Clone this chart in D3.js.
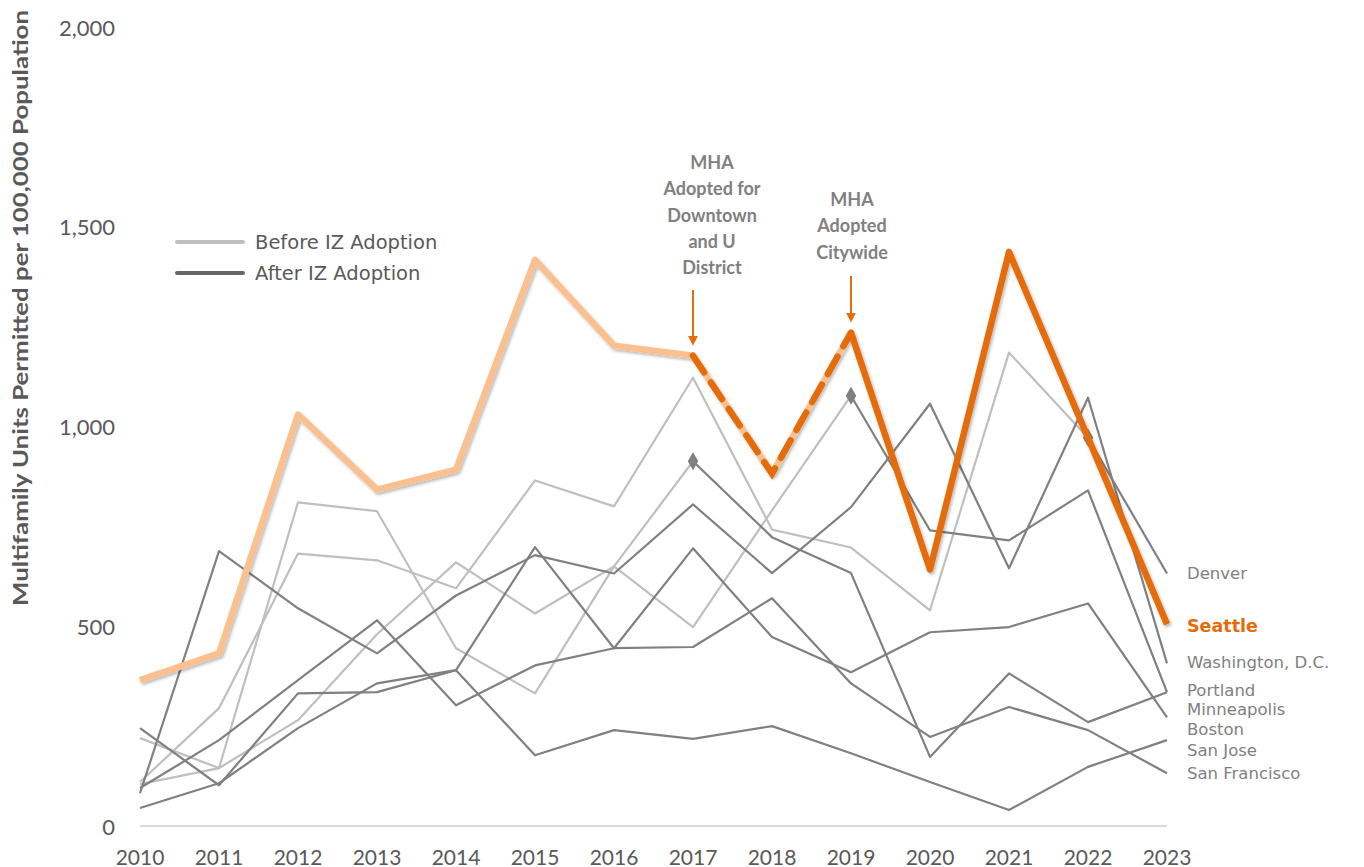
<!DOCTYPE html>
<html>
<head>
<meta charset="utf-8">
<script src="https://cdn.jsdelivr.net/npm/d3@7"></script>
<style>
  body { margin: 0; background: #fff; }
  svg { display: block; font-family: Lato, "Open Sans", sans-serif; }
</style>
</head>
<body>
<svg id="chart"></svg>
<script>
const width = 1364;
const height = 867;

const years = d3.range(2010, 2024);
const yTicks = [0, 500, 1000, 1500, 2000];

// grey cities, value per year 2010..2023
const denver      = [110, 295, 682, 665, 595, 865, 800, 1122, 742, 697, 540, 1185, 972, 632];
const portland    = [105, 145, 265, 480, 660, 532, 650, 913, 723, 633, 173, 382, 260, 335];
const minneapolis = [220, 145, 810, 788, 445, 332, 650, 498, 790, 1077, 740, 715, 840, 335];
const washington  = [82, 688, 545, 432, 577, 678, 632, 805, 633, 798, 1057, 645, 1072, 407];
const boston      = [245, 102, 332, 335, 390, 698, 445, 695, 473, 385, 485, 498, 557, 272];
const sanFrancisco= [95, 215, 365, 515, 302, 402, 445, 448, 570, 357, 223, 298, 240, 132];
const sanJose     = [45, 107, 245, 357, 390, 177, 240, 218, 250, 182, 110, 40, 148, 215];
const seattle     = [365, 432, 1030, 842, 892, 1417, 1202, 1177, 882, 1235, 642, 1437, 972, 505];

const cities = [
  {name: 'Denver', values: denver, adopted: 2022, labelY: 573},
  {name: 'Washington, D.C.', values: washington, adopted: 2010, labelY: 662},
  {name: 'Portland', values: portland, adopted: 2017, labelY: 690},
  {name: 'Minneapolis', values: minneapolis, adopted: 2019, labelY: 709},
  {name: 'Boston', values: boston, adopted: 2010, labelY: 729},
  {name: 'San Jose', values: sanJose, adopted: 2010, labelY: 750},
  {name: 'San Francisco', values: sanFrancisco, adopted: 2010, labelY: 773}
];
const seattleDowntown = 2017;
const seattleCitywide = 2019;

const lightGrey = '#BFBFBF';
const darkGrey = '#808080';
const lightOrange = '#FAC08F';
const darkOrange = '#E46C0A';
const textGrey = '#595959';
const wideFont = '"DejaVu Sans", Lato, sans-serif';

const svg = d3.select('#chart').attr('width', width).attr('height', height);

const defs = svg.append('defs');
defs.append('filter').attr('id', 'shadow')
  .attr('x', '-10%').attr('y', '-10%').attr('width', '120%').attr('height', '120%')
  .append('feDropShadow')
  .attr('dx', 1.5).attr('dy', 2).attr('stdDeviation', 1.6)
  .attr('flood-color', '#000').attr('flood-opacity', 0.28);
defs.append('marker').attr('id', 'arrow')
  .attr('viewBox', '0 0 10 10').attr('refX', 8).attr('refY', 5)
  .attr('markerWidth', 5).attr('markerHeight', 5).attr('orient', 'auto')
  .append('path').attr('d', 'M0,0 L10,5 L0,10 Z').attr('fill', darkOrange);

const x = d3.scaleLinear().domain([2010, 2023]).range([140, 1167]);
const y = d3.scaleLinear().domain([0, 2000]).range([826, 27]);

const line = d3.line().x(d => x(d.year)).y(d => y(d.value));
const pts = vals => vals.map((v, i) => ({year: years[i], value: v}));

// y tick labels
svg.append('g').selectAll('text').data(yTicks).enter().append('text')
  .attr('x', 115).attr('y', d => y(d))
  .attr('text-anchor', 'end').attr('dominant-baseline', 'central')
  .attr('font-size', 22).attr('fill', textGrey)
  .text(d => d3.format(',')(d));

// x axis line + labels
svg.append('line')
  .attr('x1', x(2010)).attr('x2', x(2023)).attr('y1', y(0)).attr('y2', y(0))
  .attr('stroke', '#D9D9D9').attr('stroke-width', 2);
svg.append('g').selectAll('text').data(years).enter().append('text')
  .attr('x', d => x(d)).attr('y', 856)
  .attr('text-anchor', 'middle').attr('dominant-baseline', 'central')
  .attr('font-size', 21).attr('fill', textGrey)
  .text(d => d);

// y axis title
svg.append('text')
  .attr('transform', 'translate(20,308) rotate(-90)')
  .attr('text-anchor', 'middle').attr('dominant-baseline', 'central')
  .attr('font-size', 20).attr('font-weight', 'bold').attr('fill', textGrey)
  .attr('textLength', 596).attr('lengthAdjust', 'spacingAndGlyphs')
  .text('Multifamily Units Permitted per 100,000 Population');

// grey cities: before (light) then after (dark)
const greyG = svg.append('g');
cities.forEach(c => {
  const before = pts(c.values).filter(d => d.year <= c.adopted);
  if (before.length > 1) {
    greyG.append('path').datum(before).attr('d', line)
      .attr('fill', 'none').attr('stroke', lightGrey).attr('stroke-width', 2.2)
      .attr('stroke-linejoin', 'round');
  }
});
cities.forEach(c => {
  const p = pts(c.values);
  const after = p.filter(d => d.year >= c.adopted);
  greyG.append('path').datum(after).attr('d', line)
    .attr('fill', 'none').attr('stroke', darkGrey).attr('stroke-width', 2.2)
    .attr('stroke-linejoin', 'round');
  if (c.adopted > 2010) {
    const d = p.find(e => e.year === c.adopted);
    greyG.append('path')
      .attr('d', d3.symbol().type(d3.symbolDiamond).size(95))
      .attr('transform', `translate(${x(d.year)},${y(d.value)})`)
      .attr('fill', darkGrey);
  }
});

// Seattle
const sp = pts(seattle);
const sMid = sp.filter(d => d.year >= seattleDowntown && d.year <= seattleCitywide);
const sAfter = sp.filter(d => d.year >= seattleCitywide);
const seaG = svg.append('g');
seaG.append('path').datum(sp.filter(d => d.year <= seattleCitywide)).attr('d', line)
  .attr('fill', 'none').attr('stroke', lightOrange).attr('stroke-width', 6.5)
  .attr('stroke-linejoin', 'round').attr('filter', 'url(#shadow)');
seaG.append('path').datum(sMid).attr('d', line)
  .attr('fill', 'none').attr('stroke', darkOrange).attr('stroke-width', 6.5)
  .attr('stroke-dasharray', '20 12').attr('stroke-linecap', 'round');
seaG.append('path').datum(sAfter).attr('d', line)
  .attr('fill', 'none').attr('stroke', darkOrange).attr('stroke-width', 6.5)
  .attr('stroke-linejoin', 'round').attr('filter', 'url(#shadow)');

// end labels
svg.append('g').selectAll('text').data(cities).enter().append('text')
  .attr('x', 1187).attr('y', d => d.labelY)
  .attr('dominant-baseline', 'central').attr('font-family', wideFont)
  .attr('font-size', 16.5).attr('fill', darkGrey)
  .text(d => d.name);
svg.append('text')
  .attr('x', 1187).attr('y', 626).attr('dominant-baseline', 'central')
  .attr('font-family', wideFont)
  .attr('font-size', 17.5).attr('font-weight', 'bold').attr('fill', darkOrange)
  .text('Seattle');

// legend
const legend = [
  {label: 'Before IZ Adoption', color: lightGrey, y: 242},
  {label: 'After IZ Adoption', color: '#666666', y: 273}
];
const lg = svg.append('g').selectAll('g').data(legend).enter().append('g');
lg.append('line').attr('x1', 177).attr('x2', 243).attr('y1', d => d.y).attr('y2', d => d.y)
  .attr('stroke', d => d.color).attr('stroke-width', 4).attr('stroke-linecap', 'round');
lg.append('text').attr('x', 255).attr('y', d => d.y).attr('dominant-baseline', 'central')
  .attr('font-family', wideFont)
  .attr('font-size', 19.5).attr('fill', textGrey).text(d => d.label);

// annotations
const notes = [
  {year: seattleDowntown, lines: ['MHA', 'Adopted for', 'Downtown', 'and U', 'District'], cx: 712, top: 162, arrowTop: 290},
  {year: seattleCitywide, lines: ['MHA', 'Adopted', 'Citywide'], cx: 852, top: 199, arrowTop: 276}
];
notes.forEach(n => {
  const v = seattle[years.indexOf(n.year)];
  svg.append('g').selectAll('text').data(n.lines).enter().append('text')
    .attr('x', n.cx).attr('y', (d, i) => n.top + i * 26.3)
    .attr('text-anchor', 'middle').attr('dominant-baseline', 'central')
    .attr('font-size', 18).attr('font-weight', 'bold').attr('fill', darkGrey)
    .text(d => d);
  svg.append('line')
    .attr('x1', x(n.year)).attr('x2', x(n.year))
    .attr('y1', n.arrowTop).attr('y2', y(v) - 12)
    .attr('stroke', darkOrange).attr('stroke-width', 2)
    .attr('marker-end', 'url(#arrow)');
});
</script>
</body>
</html>
